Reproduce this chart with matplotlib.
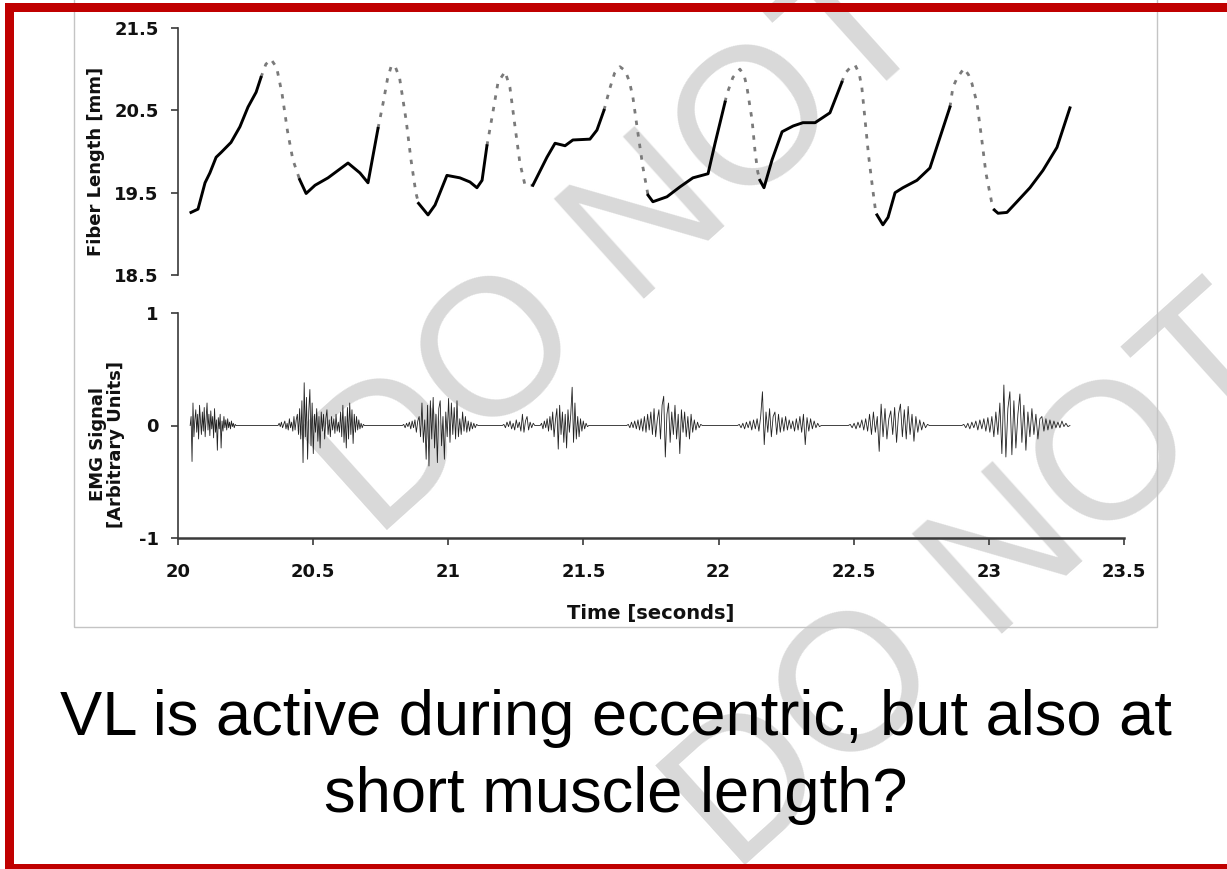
import numpy as np
import matplotlib
matplotlib.use("Agg")
import matplotlib.pyplot as plt
from matplotlib.patches import Rectangle

# ---------------- data ----------------
# Fiber length: measured (solid) segments
fiber_solid_t = [
    [20.048, 20.074, 20.10, 20.118, 20.141, 20.16, 20.196, 20.229, 20.259, 20.289, 20.307],
    [20.45, 20.474, 20.507, 20.555, 20.629, 20.673, 20.703, 20.74],
    [20.89, 20.925, 20.951, 20.995, 21.043, 21.08, 21.106, 21.125, 21.143],
    [21.313, 21.365, 21.395, 21.432, 21.461, 21.524, 21.55, 21.576],
    [21.739, 21.757, 21.809, 21.857, 21.905, 21.961, 21.987, 22.024],
    [22.153, 22.168, 22.198, 22.235, 22.276, 22.312, 22.357, 22.412, 22.456],
    [22.586, 22.608, 22.627, 22.653, 22.682, 22.734, 22.782, 22.812, 22.856],
    [23.02, 23.034, 23.067, 23.104, 23.152, 23.20, 23.252, 23.30],
]
fiber_solid_L = [
    [19.26, 19.30, 19.62, 19.74, 19.93, 19.99, 20.11, 20.30, 20.54, 20.72, 20.90],
    [19.66, 19.49, 19.59, 19.68, 19.86, 19.74, 19.62, 20.28],
    [19.37, 19.23, 19.35, 19.71, 19.68, 19.63, 19.56, 19.65, 20.07],
    [19.59, 19.93, 20.10, 20.07, 20.14, 20.15, 20.26, 20.50],
    [19.47, 19.39, 19.45, 19.57, 19.68, 19.73, 20.10, 20.60],
    [19.65, 19.56, 19.90, 20.24, 20.31, 20.35, 20.35, 20.47, 20.84],
    [19.23, 19.11, 19.20, 19.50, 19.56, 19.65, 19.80, 20.10, 20.54],
    [19.29, 19.25, 19.26, 19.39, 19.56, 19.77, 20.05, 20.53],
]
# Fiber length: estimated (dashed) segments
fiber_dash_t = [
    [20.307, 20.325, 20.344, 20.365, 20.385, 20.405, 20.425, 20.45],
    [20.74, 20.759, 20.775, 20.79, 20.805, 20.82, 20.844, 20.862, 20.88, 20.89],
    [21.143, 21.162, 21.184, 21.21, 21.228, 21.247, 21.265, 21.284, 21.313],
    [21.576, 21.598, 21.615, 21.635, 21.655, 21.67, 21.683, 21.70, 21.72, 21.739],
    [22.024, 22.03, 22.053, 22.079, 22.095, 22.105, 22.124, 22.135, 22.145, 22.153],
    [22.456, 22.468, 22.49, 22.505, 22.52, 22.53, 22.54, 22.555, 22.57, 22.58, 22.586],
    [22.856, 22.867, 22.882, 22.908, 22.925, 22.937, 22.956, 22.974, 22.989, 23.01, 23.02],
]
fiber_dash_L = [
    [20.90, 21.06, 21.12, 21.02, 20.70, 20.25, 19.90, 19.66],
    [20.28, 20.59, 20.88, 21.05, 21.02, 20.89, 20.38, 19.90, 19.50, 19.37],
    [20.07, 20.42, 20.84, 20.97, 20.78, 20.30, 19.86, 19.59, 19.59],
    [20.50, 20.77, 20.95, 21.03, 20.98, 20.85, 20.66, 20.26, 19.81, 19.47],
    [20.60, 20.69, 20.90, 21.00, 20.92, 20.78, 20.38, 20.00, 19.75, 19.65],
    [20.84, 20.95, 21.03, 21.05, 20.95, 20.78, 20.45, 19.95, 19.55, 19.30, 19.23],
    [20.54, 20.78, 20.89, 21.01, 20.93, 20.83, 20.59, 20.14, 19.74, 19.39, 19.29],
]

# EMG bursts: start time, end time and spike amplitudes
emg_start = [20.045, 20.37, 20.83, 21.20, 21.34, 21.66, 22.07, 22.48, 22.90]
emg_end = [20.215, 20.69, 21.11, 21.32, 21.52, 21.94, 22.38, 22.78, 23.30]
emg_amps = [
    [0.0, 0.08, -0.32, 0.2, -0.1, 0.05, 0.14, -0.06, 0.1, -0.12, 0.18, 0.04, -0.08, 0.12, -0.05,
     0.16, -0.1, 0.06, 0.2, -0.04, 0.1, -0.09, 0.13, -0.03, 0.08, -0.11, 0.15, -0.06, 0.05, -0.22,
     0.07, -0.03, 0.1, -0.2, 0.04, -0.05, 0.08, -0.02, 0.05, -0.04, 0.06, -0.02, 0.03, -0.03, 0.04,
     -0.01, 0.02, -0.02, 0.01, 0.0],
    [0.0, 0.02, -0.01, 0.03, -0.02, 0.01, 0.04, -0.03, 0.02, -0.04, 0.06, -0.02, 0.03, -0.05, 0.08,
     -0.04, 0.05, 0.1, -0.08, 0.15, -0.12, 0.22, -0.33, 0.38, -0.1, 0.25, -0.3, 0.12, 0.32, -0.18,
     0.2, -0.25, 0.1, -0.06, 0.15, -0.14, 0.08, -0.2, 0.12, -0.05, 0.1, -0.12, 0.06, 0.14, -0.08,
     0.05, -0.1, 0.08, -0.04, 0.06, -0.07, 0.1, -0.05, 0.03, -0.06, 0.12, -0.1, 0.18, -0.15, 0.08,
     -0.2, 0.16, -0.12, 0.2, -0.08, 0.14, -0.16, 0.1, -0.06, 0.08, -0.04, 0.05, -0.03, 0.02, -0.02,
     0.01, 0.0],
    [0.0, 0.01, -0.02, 0.02, -0.01, 0.03, -0.03, 0.04, -0.02, 0.05, -0.06, 0.04, 0.08, -0.1, 0.2,
     -0.15, 0.05, -0.3, 0.18, -0.36, 0.22, -0.12, 0.25, -0.2, 0.1, -0.33, 0.15, 0.22, -0.18, 0.08,
     -0.3, 0.12, -0.1, 0.24, -0.15, 0.2, -0.08, 0.16, -0.12, 0.22, -0.1, 0.06, -0.08, 0.12, -0.05,
     0.08, -0.06, 0.04, -0.05, 0.03, -0.03, 0.02, -0.02, 0.01, 0.0],
    [0.0, 0.01, -0.02, 0.03, -0.01, 0.04, -0.03, 0.02, -0.04, 0.05, -0.02, 0.03, -0.05, 0.1, -0.06,
     0.04, 0.08, -0.04, 0.03, -0.02, 0.02, 0.0],
    [0.0, 0.02, -0.03, 0.04, -0.02, 0.06, -0.05, 0.08, -0.04, 0.12, -0.1, 0.05, 0.15, -0.21, 0.18,
     -0.08, 0.12, -0.15, 0.1, -0.2, 0.14, -0.06, 0.1, 0.34, -0.15, 0.2, -0.12, 0.08, -0.1, 0.06,
     -0.05, 0.04, -0.03, 0.02, -0.01, 0.0],
    [0.0, 0.01, -0.02, 0.03, -0.02, 0.04, -0.03, 0.05, -0.04, 0.06, -0.05, 0.08, -0.06, 0.1, -0.04,
     0.12, -0.08, 0.15, -0.1, 0.05, 0.14, -0.12, 0.18, 0.26, -0.28, 0.1, 0.2, -0.15, 0.12, -0.08,
     0.18, -0.12, 0.1, -0.25, 0.14, -0.06, 0.12, -0.1, 0.08, -0.12, 0.1, -0.06, 0.05, -0.04, 0.03,
     -0.02, 0.01, 0.0],
    [0.0, 0.01, -0.02, 0.02, -0.03, 0.03, -0.02, 0.04, -0.04, 0.05, -0.03, 0.06, -0.05, 0.08, 0.3,
     -0.17, 0.12, -0.06, 0.15, -0.1, 0.08, 0.12, -0.08, 0.1, -0.06, 0.07, -0.05, 0.08, -0.04, 0.05,
     -0.03, 0.04, -0.05, 0.06, -0.04, 0.08, -0.06, 0.1, -0.17, 0.07, -0.05, 0.06, -0.03, 0.04, -0.02,
     0.02, -0.01, 0.0],
    [0.0, 0.01, -0.02, 0.02, -0.03, 0.03, -0.02, 0.05, -0.04, 0.06, -0.05, 0.1, -0.08, 0.12, -0.06,
     0.08, -0.23, 0.19, -0.1, 0.15, -0.12, 0.06, 0.13, -0.08, 0.16, -0.15, 0.1, 0.19, -0.1, 0.14,
     -0.12, 0.17, -0.08, 0.1, -0.14, 0.08, -0.06, 0.05, -0.04, 0.03, -0.02, 0.01, 0.0],
    [0.0, 0.01, -0.02, 0.02, -0.03, 0.03, -0.02, 0.04, -0.04, 0.05, -0.03, 0.06, -0.05, 0.07, -0.06,
     0.08, -0.1, 0.12, -0.08, 0.2, -0.25, 0.36, -0.28, 0.15, 0.3, -0.26, 0.22, -0.2, 0.1, 0.28,
     -0.15, 0.18, -0.22, 0.12, -0.1, 0.15, -0.08, 0.1, -0.12, 0.06, 0.08, -0.05, 0.06, -0.04, 0.05,
     -0.03, 0.04, -0.02, 0.03, -0.02, 0.04, -0.01, 0.02, -0.01, 0.0],
]

x_ticks = [20, 20.5, 21, 21.5, 22, 22.5, 23, 23.5]
x_ticklabels = ["20", "20.5", "21", "21.5", "22", "22.5", "23", "23.5"]
fiber_ticks = [18.5, 19.5, 20.5, 21.5]
fiber_ticklabels = ["18.5", "19.5", "20.5", "21.5"]
emg_ticks = [-1, 0, 1]
emg_ticklabels = ["-1", "0", "1"]

caption_1 = "VL is active during eccentric, but also at"
caption_2 = "short muscle length?"
watermark = "DO NOT"

# ---------------- figure ----------------
W, H = 1227, 869
fig = plt.figure(figsize=(W / 100, H / 100), dpi=100)
fig.patch.set_facecolor("white")


def fx(x):
    return x / W


def fy(y):
    return 1 - y / H


CH_FONT = "DejaVu Sans"
TXT = "#111111"
SPINE = "#3a3a3a"

# watermark (behind the chart)
for cx, cy in [(623, 250), (981, 585)]:
    fig.text(fx(cx), fy(cy), watermark, fontsize=140, family="Liberation Sans",
             color="#d9d9d9", rotation=42, ha="center", va="center",
             rotation_mode="anchor", zorder=-5)

# chart image frame
fig.add_artist(Rectangle((fx(74), fy(627)), (1157 - 74) / W, (627 + 20) / H,
                         transform=fig.transFigure, fill=False,
                         edgecolor="#c4c4c4", linewidth=1.0, zorder=1))

# --- top panel: fiber length ---
ax1 = fig.add_axes([fx(178), fy(275), (1124 - 178) / W, (275 - 28) / H])
ax1.set_facecolor("none")
for seg_t, seg_L in zip(fiber_dash_t, fiber_dash_L):
    ax1.plot(seg_t, seg_L, color="#7a7a7a", lw=2.0, dashes=(1.6, 2.6),
             solid_capstyle="butt", dash_capstyle="butt")
for seg_t, seg_L in zip(fiber_solid_t, fiber_solid_L):
    ax1.plot(seg_t, seg_L, color="black", lw=2.1, solid_joinstyle="round")
ax1.set_xlim(20, 23.5)
ax1.set_ylim(18.5, 21.5)
for s in ["top", "right", "bottom"]:
    ax1.spines[s].set_visible(False)
ax1.spines["left"].set_color(SPINE)
ax1.spines["left"].set_linewidth(1.2)
ax1.set_xticks([])
ax1.set_yticks(fiber_ticks)
ax1.set_yticklabels(fiber_ticklabels)
ax1.tick_params(axis="y", length=5, width=1.2, color=SPINE, pad=9,
                labelsize=13, labelcolor=TXT)
for lab in ax1.get_yticklabels():
    lab.set_fontweight("bold")
    lab.set_family(CH_FONT)

fig.text(fx(96), fy(161), "Fiber Length [mm]", rotation=90, ha="center", va="center",
         fontsize=13, fontweight="bold", family=CH_FONT, color=TXT)

# --- bottom panel: EMG ---
ax2 = fig.add_axes([fx(178), fy(538), (1124 - 178) / W, (538 - 313) / H])
ax2.set_facecolor("none")
emg_t = np.concatenate([np.linspace(s, e, len(a)) for s, e, a in zip(emg_start, emg_end, emg_amps)])
emg_v = np.concatenate([np.array(a) for a in emg_amps])
ax2.plot(emg_t, emg_v, color="#222222", lw=0.6)
ax2.set_xlim(20, 23.5)
ax2.set_ylim(-1, 1)
for s in ["top", "right"]:
    ax2.spines[s].set_visible(False)
for s in ["left", "bottom"]:
    ax2.spines[s].set_color(SPINE)
ax2.spines["left"].set_linewidth(1.2)
ax2.spines["bottom"].set_linewidth(1.8)
ax2.set_yticks(emg_ticks)
ax2.set_yticklabels(emg_ticklabels)
ax2.set_xticks(x_ticks)
ax2.set_xticklabels(x_ticklabels)
ax2.tick_params(axis="y", length=5, width=1.2, color=SPINE, pad=9,
                labelsize=13, labelcolor=TXT)
ax2.tick_params(axis="x", length=5, width=1.2, color=SPINE, pad=13,
                labelsize=13, labelcolor=TXT)
for lab in ax2.get_yticklabels() + ax2.get_xticklabels():
    lab.set_fontweight("bold")
    lab.set_family(CH_FONT)

fig.text(fx(107), fy(444), "EMG Signal\n[Arbitrary Units]", rotation=90, ha="center",
         va="center", multialignment="center", fontsize=13, fontweight="bold",
         family=CH_FONT, color=TXT, linespacing=1.05)
fig.text(fx(651), fy(613), "Time [seconds]", ha="center", va="center",
         fontsize=14, fontweight="bold", family=CH_FONT, color=TXT)

# --- caption ---
fig.text(fx(616), fy(735), caption_1, ha="center", va="baseline", fontsize=45.5,
         family="Liberation Sans", color="black")
fig.text(fx(616), fy(812), caption_2, ha="center", va="baseline", fontsize=45.5,
         family="Liberation Sans", color="black")

# --- red slide frame ---
red = "#c00000"
fig.add_artist(Rectangle((fx(5), fy(12)), (W - 5) / W, 9 / H, transform=fig.transFigure,
                         facecolor=red, edgecolor="none", zorder=10))
fig.add_artist(Rectangle((fx(5), fy(869)), 9 / W, (869 - 3) / H, transform=fig.transFigure,
                         facecolor=red, edgecolor="none", zorder=10))
fig.add_artist(Rectangle((fx(5), fy(869)), (W - 5) / W, 5 / H, transform=fig.transFigure,
                         facecolor=red, edgecolor="none", zorder=10))

fig.savefig("out.png", dpi=100, facecolor="white")
